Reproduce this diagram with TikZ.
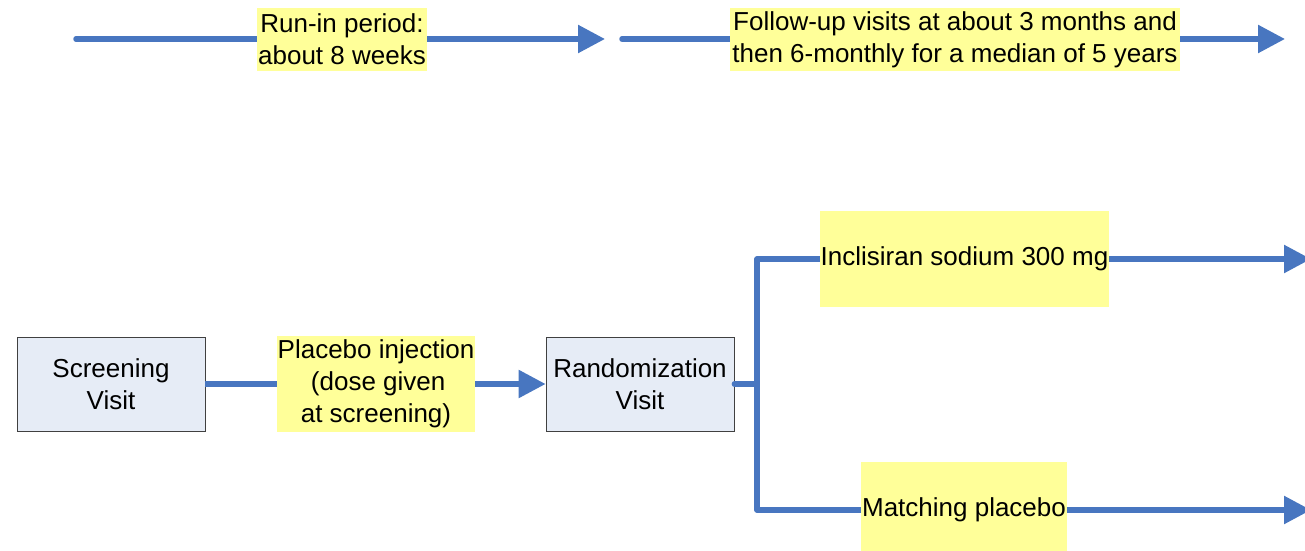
\documentclass[tikz,border=0pt]{standalone}
\usepackage{fontspec}
\setmainfont{Liberation Sans}
\usetikzlibrary{arrows.meta}
\definecolor{flow}{RGB}{72,118,192}
\definecolor{note}{RGB}{255,255,153}
\definecolor{boxfill}{RGB}{230,236,246}
\definecolor{boxline}{RGB}{64,64,64}
\tikzset{
  conn/.style={draw=flow, line width=5.5bp},
  arr/.style={conn, -{Triangle[length=27bp,width=27bp]}},
  visitbox/.style={draw=boxline, line width=0.8bp, fill=boxfill, align=center, inner sep=0pt, minimum width=188bp, minimum height=94bp},
  notebox/.style={fill=note, align=center, inner sep=0pt},
  every node/.style={font=\fontsize{26bp}{32bp}\selectfont}
}
\begin{document}
\begin{tikzpicture}[x=1bp,y=-1bp]
\useasboundingbox (0,0) rectangle (1305,551);
% top timeline
\coordinate (s1) at (76,39);
\coordinate (e1) at (605,39);
\coordinate (s2) at (622,39);
\coordinate (e2) at (1285,39);
\draw[arr, line cap=round] (s1) -- (e1);
\draw[arr, line cap=round] (s2) -- (e2);
\node[notebox, minimum width=170bp, minimum height=63bp] (runin) at (342,39.5) {Run-in period:\\about 8 weeks};
\node[notebox, minimum width=450bp, minimum height=63bp] (follow) at (955,39.5) {Follow-up visits at about 3 months and\\then 6-monthly for a median of 5 years};
% bottom flow
\node[visitbox] (screen) at (111,384) {Screening\\Visit};
\node[notebox, minimum width=198bp, minimum height=96bp] (inj) at (376,384) {Placebo injection\\\,(dose given\\at screening)};
\node[visitbox] (rand) at (640,384) {Randomization\\Visit};
\node[notebox, minimum width=289bp, minimum height=95bp] (incl) at (964.5,259) {Inclisiran sodium 300 mg};
\node[notebox, minimum width=206bp, minimum height=96bp] (match) at (964,510) {Matching placebo};
\coordinate (jn) at (757,384);
\coordinate (end1) at (1311,259);
\coordinate (end2) at (1311,510);
\draw[conn] (screen.east) -- (inj.west);
\draw[arr] (inj.east) -- (rand.west);
\draw[conn, line cap=round] (rand.east) -- (jn);
\draw[conn, line join=round] (incl.west) -| (jn) |- (match.west);
\draw[arr] (incl.east) -- (end1);
\draw[arr] (match.east) -- (end2);
\end{tikzpicture}
\end{document}
